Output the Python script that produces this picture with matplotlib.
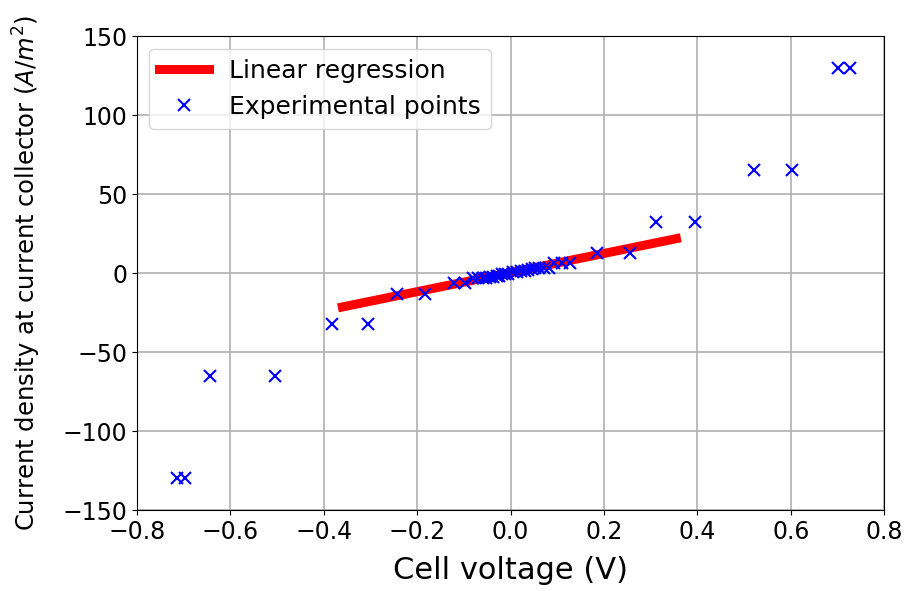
import numpy as np
import matplotlib
matplotlib.use("Agg")
import matplotlib.pyplot as plt

# measured cell voltage (V) and current density (A/m^2)
voltage = [
    -0.714, -0.697, -0.644, -0.505, -0.382, -0.305, -0.242, -0.184,
    -0.122, -0.097, -0.080, -0.070, -0.060, -0.052, -0.045, -0.038,
    -0.030, -0.024, -0.018, -0.012, -0.006, 0.006, 0.014, 0.022,
    0.030, 0.038, 0.045, 0.052, 0.060, 0.072, 0.082, 0.092,
    0.110, 0.128, 0.186, 0.256, 0.311, 0.395, 0.521, 0.603,
    0.701, 0.726,
]
current = [
    -130, -130, -65, -65, -32.5, -32.5, -13.0, -13.0,
    -6.5, -6.5, -3.3, -3.3, -3.0, -3.0, -2.2, -2.2,
    -1.6, -1.6, -0.8, -0.8, -0.4, 0.4, 0.8, 1.6,
    1.6, 2.2, 2.4, 3.0, 3.2, 3.3, 3.3, 6.5,
    6.5, 6.5, 13.0, 13.0, 32.5, 32.5, 65, 65,
    130, 130,
]

# linear regression over the central range
fit_range = [-0.36, 0.355]
fit_slope = 60.5
fit_intercept = 0.3

plt.figure(figsize=(9.06, 5.91), dpi=100)
ax = plt.gca()

fx = np.array(fit_range)
ax.plot(fx, fit_slope * fx + fit_intercept, color="red", linewidth=6.5,
        label="Linear regression", zorder=2)
ax.plot(voltage, current, "x", color="blue", markersize=9, markeredgewidth=1.5,
        label="Experimental points", zorder=3)

ax.set_xlim(-0.8, 0.8)
ax.set_ylim(-150, 150)
ax.set_xticks(np.arange(-0.8, 0.81, 0.2))
ax.set_yticks(np.arange(-150, 151, 50))
ax.tick_params(labelsize=17)
ax.set_xlabel("Cell voltage (V)", fontsize=22, labelpad=9)
ax.set_ylabel("Current density at current collector ($A/m^2$)", fontsize=17.5,
              labelpad=14)
ax.grid(True, color="#b0b0b0", linewidth=1.2)
ax.set_axisbelow(True)
ax.legend(loc="upper left", fontsize=18)

plt.subplots_adjust(left=0.151, right=0.976, top=0.939, bottom=0.137)
plt.savefig("out.png", dpi=100)
plt.close()
